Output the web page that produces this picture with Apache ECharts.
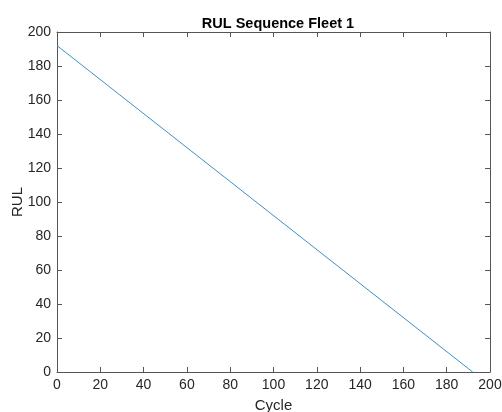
<!DOCTYPE html>
<html>
<head>
<meta charset="utf-8">
<script src="https://cdn.jsdelivr.net/npm/echarts@6/dist/echarts.min.js"></script>
<style>
html, body { margin: 0; padding: 0; background: #fff; }
#chart { width: 502px; height: 412px; }
</style>
</head>
<body>
<div id="chart"></div>
<script>
// RUL sequence, fleet 1 (end points of the straight line)
var cycles = [0, 192];
var rulValues = [192, 0];

var lineData = [];
for (var i = 0; i < cycles.length; i++) {
  lineData.push([cycles[i], rulValues[i]]);
}

var axisColor = "#555555";
var font = "Liberation Sans, Arial, sans-serif";

function boxAxis(pos, labels, name, gap) {
  return {
    type: "value",
    position: pos,
    min: 0,
    max: 200,
    interval: 20,
    name: name,
    nameLocation: "middle",
    nameGap: gap,
    nameMoveOverlap: false,
    nameTextStyle: { color: "#262626", fontSize: 15, fontFamily: font },
    axisLine: { show: true, onZero: false, lineStyle: { color: axisColor, width: 1 } },
    axisTick: { show: true, inside: true, length: 5, lineStyle: { color: axisColor } },
    axisLabel: { show: labels, color: "#262626", fontSize: 14, fontFamily: font, margin: 6 },
    splitLine: { show: false }
  };
}

var myChart = echarts.init(document.getElementById("chart"));
myChart.setOption({
  animation: false,
  title: {
    text: "RUL Sequence Fleet 1",
    left: 273,
    textAlign: "center",
    top: 11,
    textStyle: { color: "#000", fontSize: 14.5, fontWeight: "bold", fontFamily: font }
  },
  grid: { left: 57, right: 12, top: 32, bottom: 40, containLabel: false, outerBoundsMode: "none" },
  xAxis: [
    boxAxis("bottom", true, "Cycle", 26),
    boxAxis("top", false, "", 0)
  ],
  yAxis: [
    boxAxis("left", true, "RUL", 32),
    boxAxis("right", false, "", 0)
  ],
  series: [
    {
      type: "line",
      data: lineData,
      showSymbol: false,
      lineStyle: { color: "#3d8fc4", width: 1 }
    }
  ]
});
</script>
</body>
</html>
